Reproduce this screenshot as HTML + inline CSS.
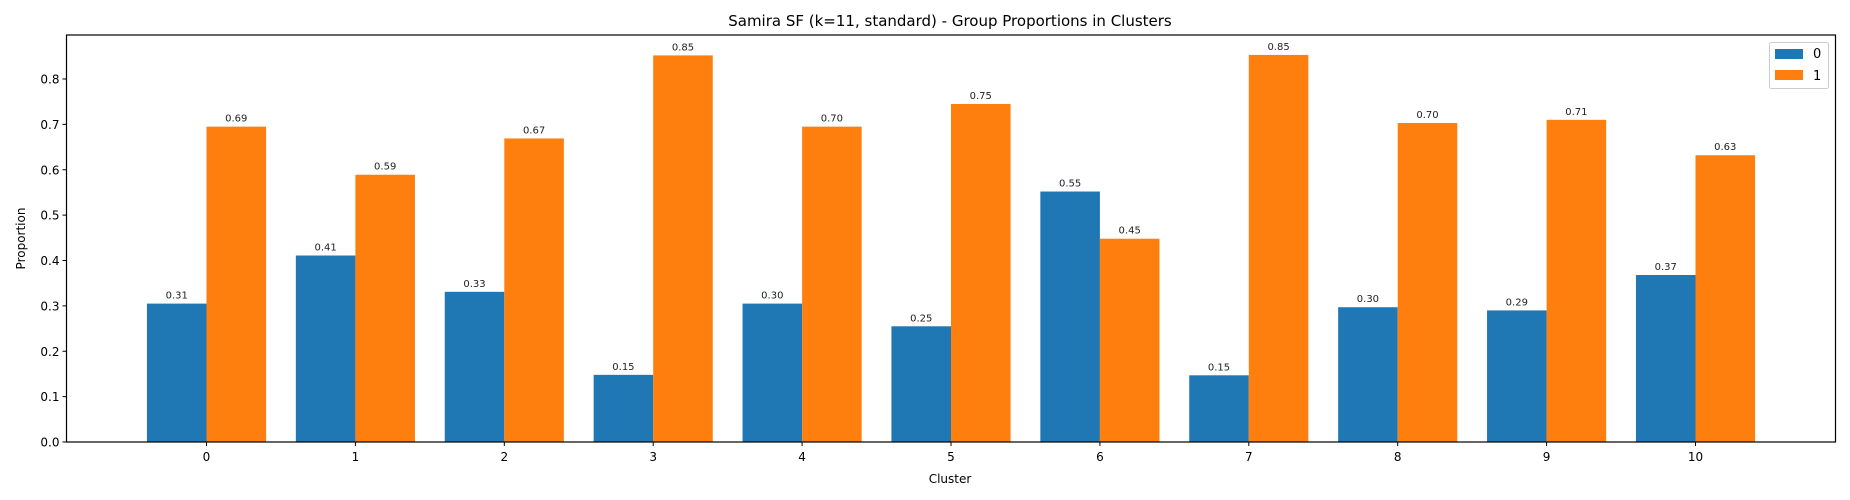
<!DOCTYPE html>
<html><head><meta charset="utf-8"><style>
html,body{margin:0;padding:0;background:#fff;}
svg{display:block;font-family:"DejaVu Sans","Liberation Sans",sans-serif;}
</style></head><body>
<svg id="chart" width="1850" height="500" viewBox="0 0 1850 500">
<text x="950" y="26" font-size="15" text-anchor="middle" fill="#000">Samira SF (k=11, standard) - Group Proportions in Clusters</text>
<g id="bars"></g>
<g id="axes"></g>
<text x="950" y="483" font-size="12" text-anchor="middle">Cluster</text>
<text transform="translate(25,238.5) rotate(-90)" font-size="12" text-anchor="middle">Proportion</text>
<g>
<rect x="1769.5" y="42.5" width="59" height="46" rx="2" fill="#fff" stroke="#ccc"/>
<rect x="1775" y="49" width="28" height="10" fill="#1f77b4"/>
<text x="1813" y="58" font-size="13">0</text>
<rect x="1775" y="70" width="28" height="10" fill="#ff7f0e"/>
<text x="1813" y="80" font-size="13">1</text>
</g>
</svg>
<script>
const categories = ["0","1","2","3","4","5","6","7","8","9","10"];
const group0 = [0.305,0.411,0.331,0.148,0.305,0.255,0.552,0.147,0.297,0.290,0.368];
const group1 = [0.695,0.589,0.669,0.852,0.695,0.745,0.448,0.853,0.703,0.710,0.632];
const labels0 = ["0.31","0.41","0.33","0.15","0.30","0.25","0.55","0.15","0.30","0.29","0.37"];
const labels1 = ["0.69","0.59","0.67","0.85","0.70","0.75","0.45","0.85","0.70","0.71","0.63"];
const yTicks = [0,0.1,0.2,0.3,0.4,0.5,0.6,0.7,0.8];
const yTickLabels = ["0.0","0.1","0.2","0.3","0.4","0.5","0.6","0.7","0.8"];

const NS="http://www.w3.org/2000/svg";
const L=66.5,R=1835.5,T=35,B=442;
const x0=206.5,dx=148.9;
const ppu=(B-79)/0.8;
function xs(i){return x0+i*dx;}
function ys(v){return B-v*ppu;}
const bw=0.4*dx;
const bars=document.getElementById('bars');
const axes=document.getElementById('axes');
function mk(tag,attrs,parent){const e=document.createElementNS(NS,tag);for(const k in attrs)e.setAttribute(k,attrs[k]);parent.appendChild(e);return e;}
categories.forEach((c,i)=>{
  const series=[[group0,labels0,'#1f77b4',-1,'0'],[group1,labels1,'#ff7f0e',0,'1']];
  series.forEach(([vals,labs,col,off,g])=>{
    const x=xs(i)+off*bw;
    const r=mk('rect',{x:x,y:ys(vals[i]),width:bw,height:B-ys(vals[i]),fill:col},bars);
    
    
    const t=mk('text',{x:x+bw/2,y:ys(vals[i])-5,'font-size':'10','text-anchor':'middle',fill:'#222'},bars);
    t.textContent=labs[i];
    
    
  });
  const tk=mk('line',{x1:xs(i),x2:xs(i),y1:B,y2:B+4,stroke:'#000'},axes);
  
  
  const tl=mk('text',{x:xs(i),y:B+19,'font-size':'12','text-anchor':'middle'},axes);
  tl.textContent=c;
  
  
});
yTicks.forEach((v,i)=>{
  const tk=mk('line',{x1:L-4,x2:L,y1:ys(v),y2:ys(v),stroke:'#000'},axes);
  
  
  const tl=mk('text',{x:L-7,y:ys(v)+4.5,'font-size':'12','text-anchor':'end'},axes);
  tl.textContent=yTickLabels[i];
  
  
});
const frame=mk('rect',{x:L,y:T,width:R-L,height:B-T,fill:'none',stroke:'#000','stroke-width':'1.2'},axes);


</script>
</body></html>
